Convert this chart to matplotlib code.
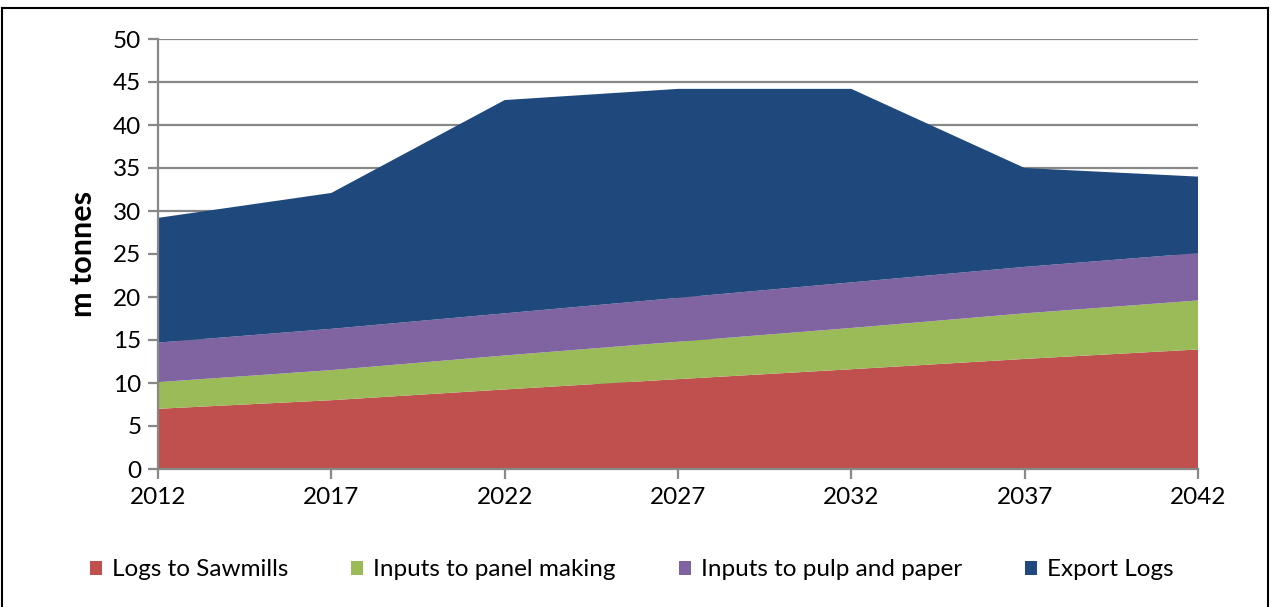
import matplotlib
matplotlib.use("Agg")
import matplotlib.pyplot as plt
from matplotlib.lines import Line2D
from matplotlib.patches import Patch

years = [2012, 2017, 2022, 2027, 2032, 2037, 2042]
sawmills = [7.0, 8.0, 9.25, 10.45, 11.6, 12.8, 13.9]
panel = [3.1, 3.5, 3.95, 4.35, 4.8, 5.3, 5.7]
pulp = [4.6, 4.8, 4.9, 5.1, 5.3, 5.4, 5.5]
export = [14.5, 15.8, 24.8, 24.3, 22.5, 11.5, 8.9]

labels = ["Logs to Sawmills", "Inputs to panel making",
          "Inputs to pulp and paper", "Export Logs"]
colors = ["#C0504D", "#9BBB59", "#8064A2", "#1F497D"]
yticks = list(range(0, 55, 5))

plt.rcParams["font.family"] = ["Lato", "DejaVu Sans"]

fig = plt.figure(figsize=(12.71, 6.07), dpi=100)
ax = fig.add_axes([158 / 1271, 1 - 469 / 607, 1040 / 1271, 430 / 607])

ax.stackplot(years, sawmills, panel, pulp, export, colors=colors,
             labels=labels, zorder=3)

ax.set_xlim(2012, 2042)
ax.set_ylim(0, 50)
ax.set_xticks(years)
ax.set_yticks(yticks)
ax.yaxis.grid(True, color="#888888", linewidth=1.6, zorder=0)
ax.set_axisbelow(True)
for side in ["top", "right"]:
    ax.spines[side].set_visible(False)
for side in ["left", "bottom"]:
    ax.spines[side].set_color("#888888")
    ax.spines[side].set_linewidth(1.6)
    ax.spines[side].set_zorder(4)
ax.tick_params(axis="both", colors="#888888", width=1.6, length=7,
               labelcolor="black", labelsize=17.5)
ax.tick_params(axis="y", pad=5)
ax.tick_params(axis="x", pad=6)
ax.set_ylabel("m tonnes", fontsize=22, fontweight="bold")
ax.yaxis.set_label_coords((83 - 158) / 1040, 0.5)
ax.yaxis.label.set_va("center")

handles = [Patch(facecolor=c) for c in colors]
fig.legend(handles, labels, loc="center", bbox_to_anchor=(0.497, 1 - 570 / 607),
           ncol=4, frameon=False, fontsize=17.5, handlelength=0.5,
           handleheight=0.5, handletextpad=0.4, columnspacing=2.6)

# outer border of the chart box
for xs, ys in [([2 / 1271, 2 / 1271], [0, 1 - 8 / 607]),
               ([1268 / 1271, 1268 / 1271], [0, 1 - 8 / 607]),
               ([2 / 1271, 1268 / 1271], [1 - 8 / 607, 1 - 8 / 607])]:
    fig.add_artist(Line2D(xs, ys, color="black", linewidth=1.5,
                          transform=fig.transFigure))

fig.savefig("out.png", dpi=100)
